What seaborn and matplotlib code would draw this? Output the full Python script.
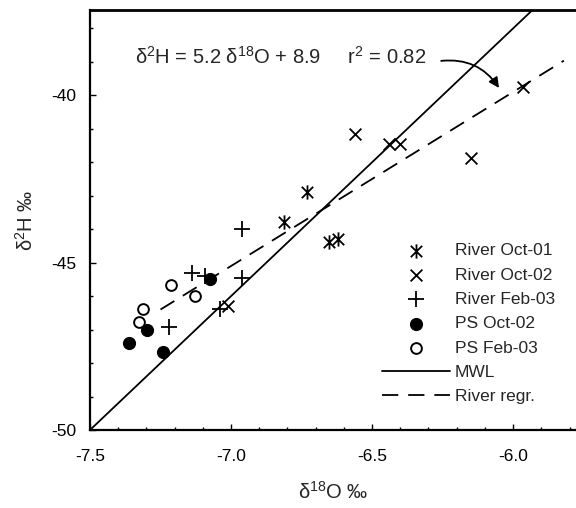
import numpy as np
import pandas as pd
import matplotlib
matplotlib.use("Agg")
import matplotlib.pyplot as plt
import seaborn as sns
from matplotlib.path import Path
from matplotlib.ticker import MultipleLocator

# ---------------- data ----------------
river_oct01_o = [-6.732, -6.812, -6.651, -6.621]
river_oct01_h = [-42.88, -43.77, -44.37, -44.29]

river_oct02_o = [-6.560, -6.439, -6.401, -6.150, -5.964, -7.012]
river_oct02_h = [-41.15, -41.45, -41.45, -41.88, -39.76, -46.29]

river_feb03_o = [-7.139, -7.092, -7.220, -6.962, -6.962, -7.039]
river_feb03_h = [-45.30, -45.40, -46.93, -44.00, -45.46, -46.39]

ps_oct02_o = [-7.074, -7.299, -7.362, -7.240]
ps_oct02_h = [-45.49, -47.01, -47.39, -47.66]

ps_feb03_o = [-7.213, -7.128, -7.311, -7.326]
ps_feb03_h = [-45.67, -45.99, -46.39, -46.78]

mwl_slope, mwl_intercept = 8.0, 10.0
regr_slope, regr_intercept = 5.2, -8.7
regr_x_range = [-7.25, -5.82]

x_limits = [-7.5, -5.777]
y_limits = [-50, -37.45]

# ---------------- style ----------------
sns.set_theme(style="ticks")
plt.rcParams["font.family"] = ["Liberation Sans", "DejaVu Sans"]
plt.rcParams["mathtext.fontset"] = "custom"
plt.rcParams["mathtext.rm"] = "Liberation Sans"
plt.rcParams["mathtext.it"] = "Liberation Sans:italic"
plt.rcParams["mathtext.bf"] = "Liberation Sans:bold"

fig = plt.figure(figsize=(5.76, 5.08), dpi=100)
ax = fig.add_axes([90/576, 78/508, 486/576, 420/508])

# asterisk marker: x plus vertical bar
ast_path = Path(
    [(-1, -1), (1, 1), (-1, 1), (1, -1), (0, -1.25), (0, 1.25)],
    [Path.MOVETO, Path.LINETO, Path.MOVETO, Path.LINETO, Path.MOVETO, Path.LINETO],
)

lw_m = 1.3
sns.scatterplot(x=river_oct01_o, y=river_oct01_h, marker=ast_path, s=105,
                color="black", edgecolor="black", linewidth=lw_m,
                label="River Oct-01", ax=ax, zorder=3)
sns.scatterplot(x=river_oct02_o, y=river_oct02_h, marker="x", s=72,
                color="black", linewidth=lw_m, label="River Oct-02", ax=ax, zorder=3)
sns.scatterplot(x=river_feb03_o, y=river_feb03_h, marker="+", s=120,
                color="black", linewidth=lw_m, label="River Feb-03", ax=ax, zorder=3)
sns.scatterplot(x=ps_oct02_o, y=ps_oct02_h, marker="o", s=75,
                color="black", edgecolor="black", linewidth=0.8, label="PS Oct-02", ax=ax, zorder=3)
sns.scatterplot(x=ps_feb03_o, y=ps_feb03_h, marker="o", s=60,
                facecolor="white", edgecolor="black", linewidth=1.4, label="PS Feb-03", ax=ax, zorder=3)

# lines
mwl_x = np.array(x_limits)
sns.lineplot(x=mwl_x, y=mwl_slope * mwl_x + mwl_intercept, color="black",
             linewidth=1.3, label="MWL", ax=ax, zorder=2)
rx = np.array(regr_x_range)
sns.lineplot(x=rx, y=regr_slope * rx + regr_intercept, color="black",
             linewidth=1.3, linestyle=(0, (9, 5.5)), label="River regr.", ax=ax, zorder=2)

ax.set_xlim(*x_limits)
ax.set_ylim(*y_limits)
ax.xaxis.set_major_locator(MultipleLocator(0.5))
ax.xaxis.set_minor_locator(MultipleLocator(0.1))
ax.yaxis.set_major_locator(MultipleLocator(5))
ax.yaxis.set_minor_locator(MultipleLocator(1))
ax.xaxis.set_major_formatter(matplotlib.ticker.FormatStrFormatter("%.1f"))
ax.yaxis.set_major_formatter(matplotlib.ticker.FormatStrFormatter("%d"))
ax.tick_params(which="major", direction="in", length=4.5, width=1.0, labelsize=12.5,
               colors="black")
ax.tick_params(which="minor", direction="in", length=2.5, width=1.0, colors="black")
ax.tick_params(axis="x", which="both", top=False)
ax.tick_params(axis="y", which="both", right=False)
ax.tick_params(axis="x", which="major", pad=14)
ax.tick_params(axis="y", which="major", pad=10)

for side in ["left", "bottom"]:
    ax.spines[side].set_linewidth(1.6)
    ax.spines[side].set_color("black")
ax.spines["top"].set_linewidth(2.0)
ax.spines["top"].set_color("black")
ax.spines["top"].set_visible(True)
ax.spines["right"].set_visible(False)

ax.set_xlabel(r"δ$^{\mathrm{18}}$O ‰", fontsize=14.5, labelpad=12)
ax.set_ylabel(r"δ$^{\mathrm{2}}$H ‰", fontsize=14.5, labelpad=10)

ax.text((135 - 90) / 486, (430 - 57) / 420,
        r"δ$^{\mathrm{2}}$H = 5.2 δ$^{\mathrm{18}}$O + 8.9     r$^{\mathrm{2}}$ = 0.82",
        transform=ax.transAxes, fontsize=14.5, va="center", ha="left")
ax.annotate("", xy=(-6.05, -39.78), xytext=(-6.255, -38.97),
            arrowprops=dict(arrowstyle="-|>", color="black", lw=1.3,
                            connectionstyle="arc3,rad=-0.3", mutation_scale=15,
                            shrinkA=0, shrinkB=0))

ax.legend(loc="upper left", bbox_to_anchor=(382 / 576, 1 - 243 / 508),
          bbox_transform=fig.transFigure, frameon=False, fontsize=12.5,
          handlelength=3.9, handletextpad=0.3, labelspacing=0.53,
          borderpad=0, borderaxespad=0)

fig.savefig("out.png", dpi=100)
